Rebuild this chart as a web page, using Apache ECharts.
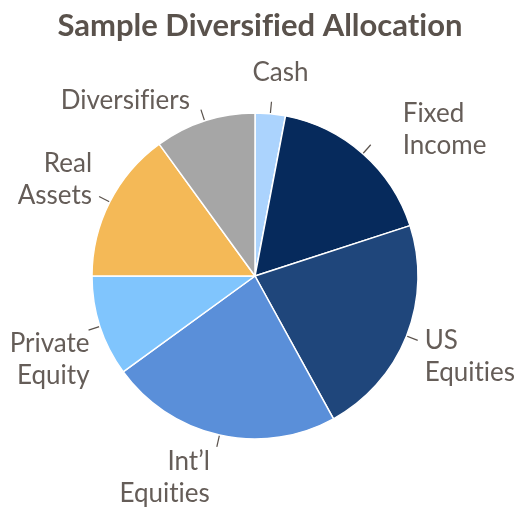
<!DOCTYPE html>
<html>
<head>
<meta charset="utf-8">
<script src="https://cdn.jsdelivr.net/npm/echarts@6/dist/echarts.min.js"></script>
<style>
html,body{margin:0;padding:0;background:#fff;}
#chart{width:520px;height:511px;}
</style>
</head>
<body>
<div id="chart"></div>
<script>
// \u200C keeps Lato from drawing fi / ti ligatures
var categories = ['Cash', 'Fixed\nIncome', 'US\nEquit\u200Cies', 'Int\u2019l\nEquit\u200Cies', 'Private\nEquity', 'Real\nAssets', 'Diversif\u200Ciers'];
var values = [3, 17, 22, 23, 10, 15, 10];
var colors = ['#abd3fd', '#062a5c', '#1f467b', '#5a8fd9', '#80c5fd', '#f4b957', '#a6a6a6'];
// label offset from the outer end of the leader line: dx, dy, align
var labelOffsets = [[9, -29, 'center'], [32, -15, 'left'], [7, 16, 'left'], [-7, 31, 'right'], [1, 30, 'right'], [-7, -17, 'right'], [-11, -9, 'right']];

var cx = 255, cy = 276, R = 163;
var total = 0;
for (var k = 0; k < values.length; k++) total += values[k];

function midAngle(i){
	var before = 0;
	for (var j = 0; j < i; j++) before += values[j];
	return (before + values[i] / 2) / total * Math.PI * 2;
}
function polar(a, r){
	return [cx + r * Math.sin(a), cy - r * Math.cos(a)];
}

var chart = echarts.init(document.getElementById('chart'));
var data = [];
for (var i = 0; i < categories.length; i++) {
	data.push({name: categories[i], value: values[i], itemStyle: {color: colors[i]}});
}
var option = {
	animation: false,
	title: {
		text: 'Sample Diversif\u200Cied Allocat\u200Cion',
		left: 'center',
		top: 5,
		textStyle: {fontFamily: 'Lato', fontWeight: 'bold', fontSize: 31, color: '#5a524c'}
	},
	series: [{
		type: 'pie',
		center: [cx, cy],
		radius: R,
		startAngle: 90,
		clockwise: true,
		data: data,
		itemStyle: {borderColor: '#fff', borderWidth: 1.5},
		label: {
			show: true,
			position: 'outside',
			fontFamily: 'Lato',
			fontWeight: 'normal',
			fontSize: 26,
			lineHeight: 32,
			color: '#655d58',
			overflow: 'none'
		},
		labelLine: {show: true, length: 14, length2: 0, lineStyle: {color: '#5a524c', width: 1.2}},
		labelLayout: function(params){
			var i = params.dataIndex;
			var a = midAngle(i);
			var p1 = polar(a, 154), p2 = polar(a, 175);
			var o = labelOffsets[i];
			return {
				x: p2[0] + o[0],
				y: p2[1] + o[1],
				align: o[2],
				verticalAlign: 'middle',
				labelLinePoints: [p1, p2, p2]
			};
		}
	}]
};
chart.setOption(option);
</script>
</body>
</html>
